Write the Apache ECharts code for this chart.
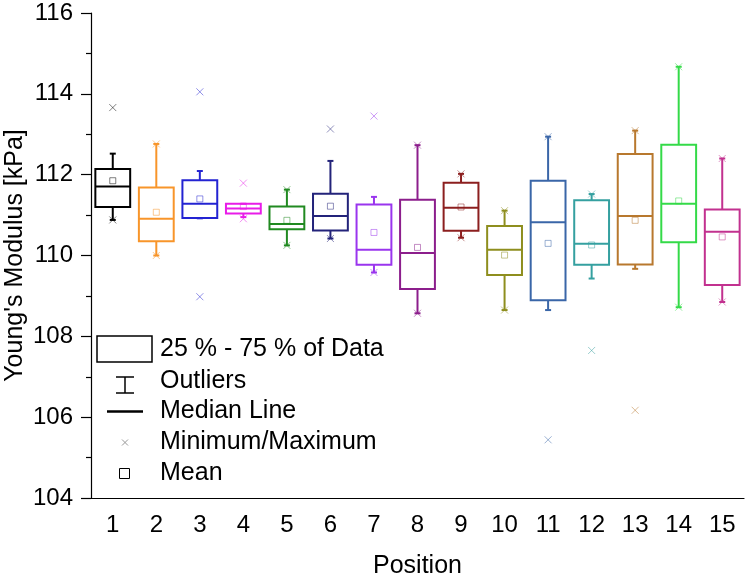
<!DOCTYPE html>
<html>
<head>
<meta charset="utf-8">
<script src="https://cdn.jsdelivr.net/npm/echarts@6/dist/echarts.min.js"></script>
<style>
html,body{margin:0;padding:0;background:#fff;}
#chart{width:747px;height:579px;}
</style>
</head>
<body>
<div id="chart"></div>
<script>
var positions = ['1','2','3','4','5','6','7','8','9','10','11','12','13','14','15'];
var q3Values     = [112.14,111.68,111.86,111.28,111.21,111.53,111.26,111.38,111.80,110.73,111.85,111.37,112.51,112.74,111.14];
var q1Values     = [111.20,110.35,110.93,111.04,110.65,110.62,109.77,109.17,110.61,109.52,108.89,109.77,109.78,110.33,109.27];
var medianValues = [111.71,110.91,111.28,111.16,110.78,110.98,110.14,110.06,111.18,110.14,110.82,110.29,110.98,111.28,110.59];
var whiskerHigh  = [112.52,112.76,112.09,111.28,111.63,112.34,111.45,112.73,112.02,111.11,112.94,111.52,113.09,114.67,112.40];
var whiskerLow   = [110.88,110.00,110.92,110.95,110.25,110.42,109.58,108.57,110.44,108.65,108.65,109.43,109.67,108.72,108.85];
var meanValues   = [111.85,111.07,111.40,111.21,110.87,111.22,110.57,110.20,111.20,110.01,110.30,110.26,110.87,111.35,110.46];
var maxValues    = [113.66,112.76,114.05,111.79,111.63,113.13,113.45,112.73,112.02,111.11,112.94,111.52,113.09,114.67,112.40];
var minValues    = [110.88,110.00,108.98,110.91,110.25,110.42,109.58,108.57,110.44,108.65,105.44,107.65,106.17,108.72,108.85];
var yTicks = [104,106,108,110,112,114,116];

var palette = ['#000000','#F8952A','#2323D2','#E81CE8','#218A21','#23237A','#9A35EE','#8C1E8C','#8C1F1F','#8E8E1E','#3A66A8','#35A0A0','#B8782E','#34DA48','#C2318F'];

var seriesData = positions.map(function(p, i){
  return [i, q1Values[i], q3Values[i], medianValues[i], whiskerLow[i], whiskerHigh[i], meanValues[i], minValues[i], maxValues[i]];
});

var FONT = 'Liberation Sans, Arial, sans-serif';

function renderItem(params, api){
  var idx = api.value(0);
  var color = palette[idx];
  var bw = api.size([1,0])[0] * 0.8;
  var c = api.coord([idx, api.value(1)]);
  var x = c[0];
  var yq1 = c[1];
  var yq3 = api.coord([idx, api.value(2)])[1];
  var ymed = api.coord([idx, api.value(3)])[1];
  var ywl = api.coord([idx, api.value(4)])[1];
  var ywh = api.coord([idx, api.value(5)])[1];
  var ymean = api.coord([idx, api.value(6)])[1];
  var ymin = api.coord([idx, api.value(7)])[1];
  var ymax = api.coord([idx, api.value(8)])[1];
  var ls = {stroke: color, lineWidth: 2, fill: null};
  var light = {stroke: color, lineWidth: 1, fill: null, opacity: 0.5};
  var cap = 3;
  var cs = 3.5;
  function cross(y){
    return [
      {type:'line', shape:{x1:x-cs,y1:y-cs,x2:x+cs,y2:y+cs}, style: light},
      {type:'line', shape:{x1:x-cs,y1:y+cs,x2:x+cs,y2:y-cs}, style: light}
    ];
  }
  var children = [
    {type:'line', shape:{x1:x,y1:yq3,x2:x,y2:ywh}, style: ls},
    {type:'line', shape:{x1:x-cap,y1:ywh,x2:x+cap,y2:ywh}, style: ls},
    {type:'line', shape:{x1:x,y1:yq1,x2:x,y2:ywl}, style: ls},
    {type:'line', shape:{x1:x-cap,y1:ywl,x2:x+cap,y2:ywl}, style: ls},
    {type:'rect', shape:{x:x-bw/2,y:yq3,width:bw,height:yq1-yq3}, style: {stroke: color, lineWidth: 2, fill: 'rgba(0,0,0,0)'}},
    {type:'line', shape:{x1:x-bw/2,y1:ymed,x2:x+bw/2,y2:ymed}, style: ls},
    {type:'rect', shape:{x:x-3,y:ymean-3,width:6,height:6}, style: light}
  ];
  children = children.concat(cross(ymin), cross(ymax));
  return {type:'group', children: children};
}

var legendTextX = 160;
var legendRows = [349.5, 381.5, 411.5, 442.5, 473.5];
var legendLabels = ['25 % - 75 % of Data', 'Outliers', 'Median Line', 'Minimum/Maximum', 'Mean'];

var graphics = [
  {type:'rect', shape:{x:97,y:336,width:55,height:26}, style:{stroke:'#000', lineWidth:1.5, fill:'#fff'}, z:100},
  {type:'line', shape:{x1:125,y1:377,x2:125,y2:393}, style:{stroke:'#000', lineWidth:1.5}, z:100},
  {type:'line', shape:{x1:116,y1:377,x2:134,y2:377}, style:{stroke:'#000', lineWidth:1.5}, z:100},
  {type:'line', shape:{x1:116,y1:393,x2:134,y2:393}, style:{stroke:'#000', lineWidth:1.5}, z:100},
  {type:'line', shape:{x1:107,y1:411.5,x2:143,y2:411.5}, style:{stroke:'#000', lineWidth:2.5}, z:100},
  {type:'line', shape:{x1:122,y1:439.5,x2:128,y2:445.5}, style:{stroke:'#999', lineWidth:1}, z:100},
  {type:'line', shape:{x1:122,y1:445.5,x2:128,y2:439.5}, style:{stroke:'#999', lineWidth:1}, z:100},
  {type:'rect', shape:{x:119.5,y:468.5,width:10,height:10}, style:{stroke:'#000', lineWidth:1, fill:'#fff'}, z:100}
];
legendLabels.forEach(function(t, i){
  graphics.push({type:'text', x: legendTextX, y: legendRows[i], style:{text:t, font: '25px ' + FONT, fill:'#000', align:'left', verticalAlign:'middle'}, z:100});
});

var chart = echarts.init(document.getElementById('chart'), null, {renderer:'canvas'});
chart.setOption({
  animation: false,
  backgroundColor: '#fff',
  grid: {left: 91, right: 3, top: 13, bottom: 81, containLabel: false, outerBoundsMode: 'none'},
  xAxis: {
    type: 'category',
    data: positions,
    boundaryGap: true,
    name: 'Position',
    nameLocation: 'middle',
    nameGap: 56,
    nameMoveOverlap: false,
    nameTextStyle: {fontSize: 25, fontFamily: FONT, color: '#000'},
    axisLine: {lineStyle: {color: '#000', width: 1.2}},
    axisTick: {alignWithLabel: true, length: 9, lineStyle: {color: '#000', width: 1.2}},
    axisLabel: {fontSize: 24, fontFamily: FONT, color: '#000', margin: 15, interval: 0},
    splitLine: {show: false}
  },
  yAxis: {
    type: 'value',
    min: yTicks[0],
    max: yTicks[yTicks.length - 1],
    interval: 2,
    name: "Young's Modulus [kPa]",
    nameLocation: 'middle',
    nameGap: 63,
    nameMoveOverlap: false,
    nameTextStyle: {fontSize: 25, fontFamily: FONT, color: '#000'},
    axisLine: {show: true, lineStyle: {color: '#000', width: 1.2}},
    axisTick: {show: true, length: 10, lineStyle: {color: '#000', width: 1.2}},
    minorTick: {show: true, splitNumber: 2, length: 5, lineStyle: {color: '#000', width: 1.2}},
    axisLabel: {fontSize: 24, fontFamily: FONT, color: '#000', margin: 18},
    splitLine: {show: false},
    minorSplitLine: {show: false}
  },
  graphic: graphics,
  series: [{
    type: 'custom',
    renderItem: renderItem,
    encode: {x: 0, y: [1,2,3,4,5,6,7,8]},
    data: seriesData,
    clip: false
  }]
});
</script>
</body>
</html>
